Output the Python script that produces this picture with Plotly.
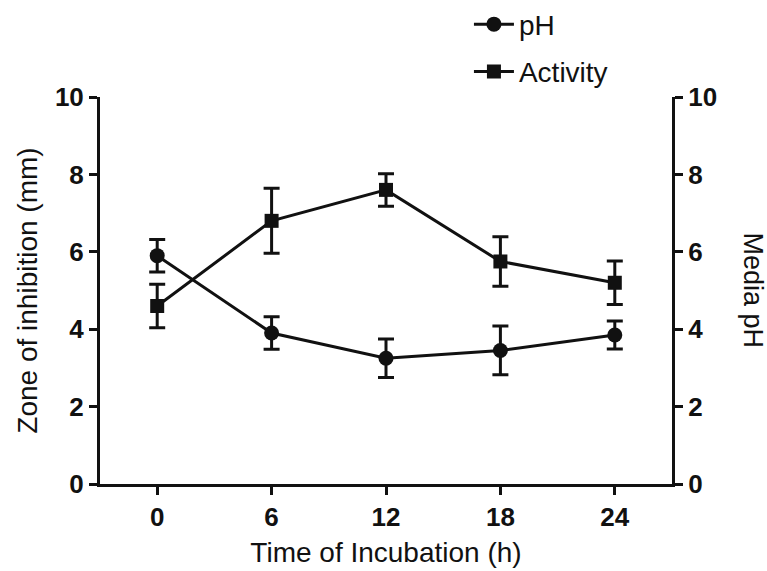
import plotly.graph_objects as go

time_h = [0, 6, 12, 18, 24]
ph_mean = [5.9, 3.9, 3.25, 3.45, 3.85]
ph_err = [0.42, 0.42, 0.5, 0.63, 0.36]
activity_mean = [4.6, 6.8, 7.6, 5.75, 5.2]
activity_err = [0.56, 0.84, 0.42, 0.64, 0.56]
y_ticks = [0, 2, 4, 6, 8, 10]

FONT = "Liberation Sans, Arial, sans-serif"
INK = "#111111"

fig = go.Figure()
fig.add_trace(go.Scatter(
    x=time_h, y=ph_mean, name="pH", mode="lines+markers",
    line=dict(color=INK, width=3),
    marker=dict(symbol="circle", size=15, color=INK),
    error_y=dict(type="data", array=ph_err, color=INK, thickness=3, width=8),
    yaxis="y2", legendgroup="a",
))
fig.add_trace(go.Scatter(
    x=time_h, y=activity_mean, name="Activity", mode="lines+markers",
    line=dict(color=INK, width=3),
    marker=dict(symbol="square", size=14, color=INK),
    error_y=dict(type="data", array=activity_err, color=INK, thickness=3, width=8),
    legendgroup="b",
))

axis_common = dict(
    showgrid=False, zeroline=False, showline=True, linecolor=INK, linewidth=3,
    ticks="outside", ticklen=8, tickwidth=3, tickcolor=INK,
    tickfont=dict(family=FONT, size=26, color=INK, weight="bold"),
)

fig.update_layout(
    width=767, height=571,
    margin=dict(l=100, r=95, t=97, b=87, autoexpand=False),
    paper_bgcolor="white", plot_bgcolor="white",
    font=dict(family=FONT, color=INK),
    showlegend=True,
    legend=dict(x=0.645, y=1.252, xanchor="left", yanchor="top",
                font=dict(family=FONT, size=28, color=INK),
                bgcolor="rgba(0,0,0,0)", tracegroupgap=8, itemwidth=40),
    xaxis=dict(range=[-3, 27], tickvals=time_h, ticktext=[str(t) for t in time_h],
               title=dict(text="Time of Incubation (h)", font=dict(family=FONT, size=28, color=INK), standoff=12),
               **axis_common),
    yaxis=dict(range=[0, 10], tickvals=y_ticks,
               title=dict(text="Zone of inhibition (mm)", font=dict(family=FONT, size=28, color=INK), standoff=10),
               **axis_common),
    yaxis2=dict(range=[0, 10], tickvals=y_ticks, overlaying="y", side="right", **axis_common),
    annotations=[dict(text="Media pH", textangle=90, xref="paper", yref="paper",
                      x=1.0 + 81 / 572, y=0.5, showarrow=False, xanchor="center", yanchor="middle",
                      font=dict(family=FONT, size=27, color=INK))],
)

fig.write_html("out.html")
